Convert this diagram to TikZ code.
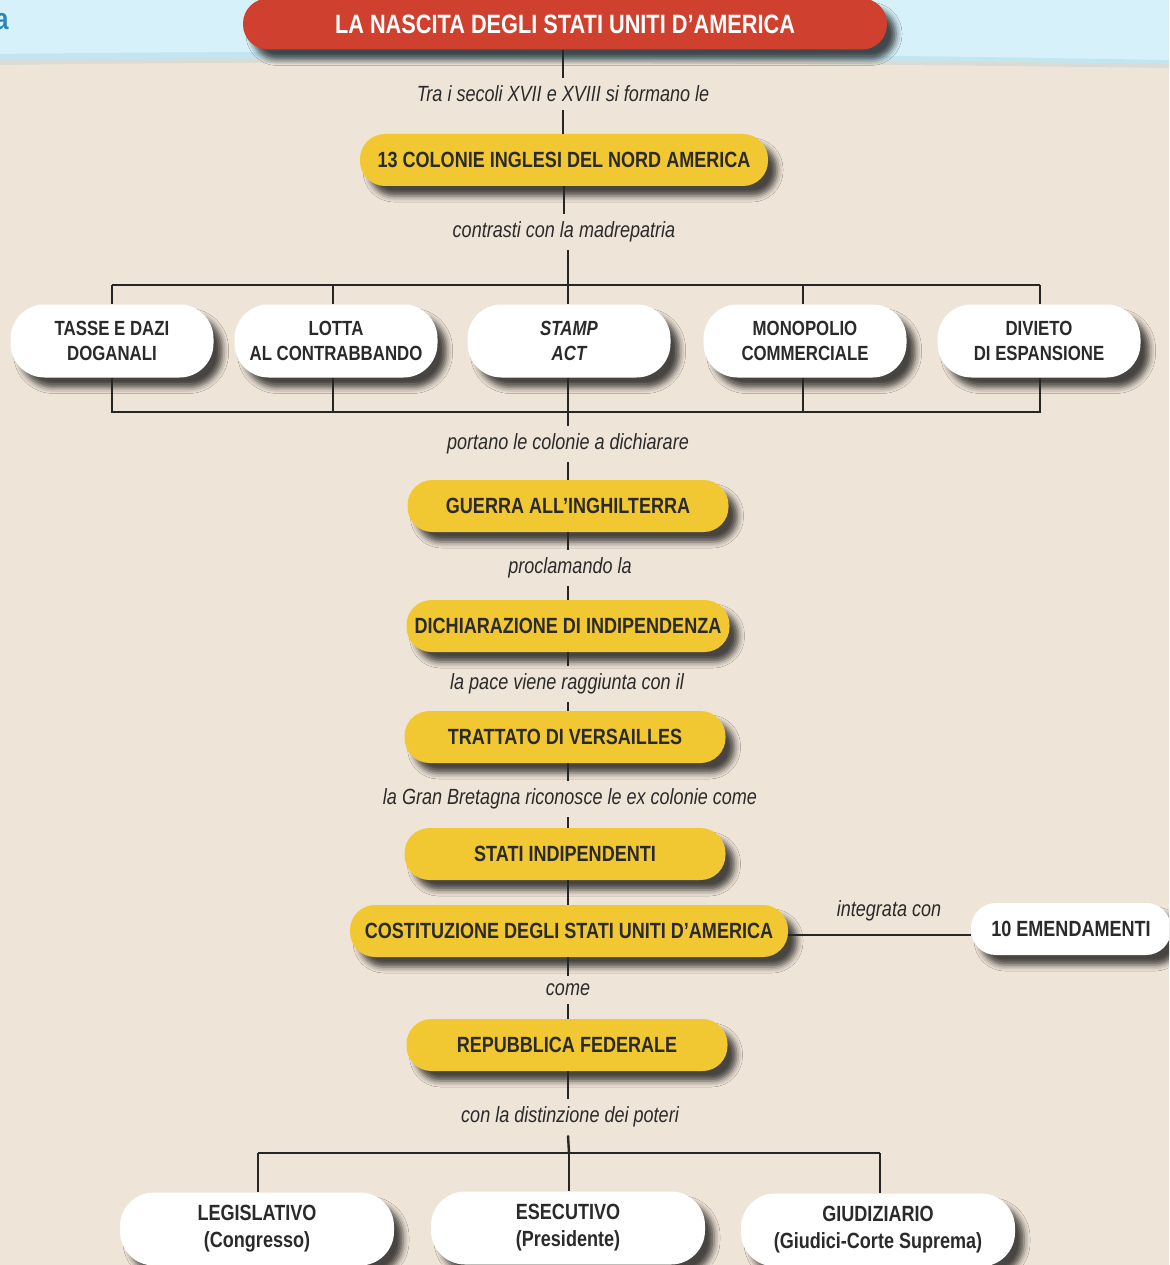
\documentclass[tikz,border=0pt]{standalone}
\usepackage{fontspec}
\setmainfont{Liberation Sans}[FakeStretch=0.82]
\usetikzlibrary{shadows.blur}
\definecolor{bg}{HTML}{EFE4D8}
\definecolor{sky}{HTML}{D7F1FA}
\definecolor{skyline}{HTML}{C3E5F0}
\definecolor{wavegrey}{HTML}{D8DCD4}
\definecolor{redt}{HTML}{D0402E}
\definecolor{yel}{HTML}{F2C832}
\definecolor{txt}{HTML}{2A2A2A}
\definecolor{lin}{HTML}{262626}
\definecolor{blueA}{HTML}{2A88B8}
\tikzset{
  shad/.style={blur shadow={shadow xshift=9pt, shadow yshift=-10pt, shadow blur radius=6pt, shadow opacity=70}},
  ybox/.style={shad, fill=yel, rounded corners=25pt, minimum height=52pt, inner sep=0pt, text=txt,
    font=\bfseries\fontsize{22}{26}\selectfont},
  wbox/.style={shad, fill=white, rounded corners=34pt, minimum height=73pt, minimum width=203pt, inner sep=0pt, text=txt,
    align=center, font=\bfseries\fontsize{20.5}{25}\selectfont},
  pbox/.style={wbox, minimum width=274pt, font=\bfseries\fontsize{22}{27}\selectfont},
  lbl/.style={text=txt, font=\itshape\fontsize{22}{26}\selectfont, inner xsep=4pt, inner ysep=8pt},
  conn/.style={draw=lin, line width=2.4pt},
}
\begin{document}
\begin{tikzpicture}[x=1pt,y=-1pt]
\useasboundingbox (0,0) rectangle (1169,1265);
\clip (0,0) rectangle (1169,1265);
% background
\fill[bg] (0,0) rectangle (1169,1265);
\fill[sky] (0,0) rectangle (1169,70);
\fill[skyline] (0,54) .. controls (300,50) and (700,52) .. (1169,60) -- (1169,72) -- (0,72) -- cycle;
\fill[wavegrey] (0,60) .. controls (300,57) and (700,58) .. (1169,64) -- (1169,74) -- (0,74) -- cycle;
\fill[bg] (0,65) .. controls (300,61) and (700,62) .. (1169,68) -- (1169,80) -- (0,80) -- cycle;
\node[text=blueA, font=\bfseries\fontsize{30}{30}\selectfont, anchor=east] (frag) at (12,22) {a};

% title
\node[shad, fill=redt, rounded corners=25pt, minimum width=644pt, minimum height=51pt, text=white,
  font=\bfseries\fontsize{26.5}{30}\selectfont] (title) at (565,24) {LA NASCITA DEGLI STATI UNITI D’AMERICA};

% labels
\node[lbl] (l1) at (563,94) {Tra i secoli XVII e XVIII si formano le};
\node[ybox, minimum width=408pt] (col) at (564,160) {13 COLONIE INGLESI DEL NORD AMERICA};
\node[lbl] (l2) at (564,232) {contrasti con la madrepatria};

\coordinate (tl) at (112,285);
\coordinate (tr) at (1040,285);
\coordinate (bl) at (112,412);
\coordinate (br) at (1040,412);
\coordinate (tm) at (568,285);
\coordinate (bm) at (568,412);

\node[wbox] (n1) at (112,341) {TASSE E DAZI\\DOGANALI};
\node[wbox] (n2) at (336,341) {LOTTA\\AL CONTRABBANDO};
\node[wbox, font=\bfseries\itshape\fontsize{20.5}{25}\selectfont] (n3) at (569,341) {STAMP\\ACT};
\node[wbox] (n4) at (805,341) {MONOPOLIO\\COMMERCIALE};
\node[wbox] (n5) at (1039,341) {DIVIETO\\DI ESPANSIONE};

\node[lbl] (l3) at (568,444) {portano le colonie a dichiarare};
\node[ybox, minimum width=321pt] (g) at (568,506) {GUERRA ALL’INGHILTERRA};
\node[lbl] (l4) at (570,568) {proclamando la};
\node[ybox, minimum width=323pt] (d) at (568,626) {DICHIARAZIONE DI INDIPENDENZA};
\node[lbl] (l5) at (567,684) {la pace viene raggiunta con il};
\node[ybox, minimum width=321pt] (t) at (565,737) {TRATTATO DI VERSAILLES};
\node[lbl] (l6) at (570,799) {la Gran Bretagna riconosce le ex colonie come};
\node[ybox, minimum width=321pt] (s) at (565,854) {STATI INDIPENDENTI};
\node[ybox, minimum width=438pt] (c) at (569,931) {COSTITUZIONE DEGLI STATI UNITI D’AMERICA};
\node[wbox, minimum width=200pt, minimum height=52pt, rounded corners=25pt, font=\bfseries\fontsize{22}{26}\selectfont] (e) at (1071,929) {10 EMENDAMENTI};
\node[lbl] (l7) at (889,911) {integrata con};
\node[lbl] (l8) at (568,990) {come};
\node[ybox, minimum width=321pt] (r) at (567,1045) {REPUBBLICA FEDERALE};
\node[lbl] (l9) at (570,1117) {con la distinzione dei poteri};

\coordinate (pl) at (258,1153);
\coordinate (pm) at (569,1153);
\coordinate (pr) at (880,1153);
\node[pbox] (p1) at (257,1229) {LEGISLATIVO\\(Congresso)};
\node[pbox] (p2) at (568,1228) {ESECUTIVO\\(Presidente)};
\node[pbox] (p3) at (878,1230) {GIUDIZIARIO\\(Giudici-Corte Suprema)};

% connectors
\begin{scope}[conn]
\draw (title.south -| l1) -- (l1);
\draw (l1) -- (l1 |- col.north);
\draw (col.south) -- (l2);
\draw (l2.south -| tm) -- (tm);
\draw (tl) -- (tr);
\draw (tl) -- (n1.north);
\draw (n1.south) -- (bl) -- (br) -- (br |- n5.south);
\draw (tr) -- (tr |- n5.north);
\draw (333,285) -- (333,304);
\draw (333,378) -- (333,412);
\draw (tm) -- (tm |- n3.north);
\draw (tm |- n3.south) -- (bm);
\draw (803,285) -- (803,304);
\draw (803,378) -- (803,412);
\draw (bm) -- (bm |- l3.north);
\draw (bm |- l3.south) -- (bm |- g.north);
\draw (bm |- g.south) -- (bm |- l4.north);
\draw (bm |- l4.south) -- (bm |- d.north);
\draw (bm |- d.south) -- (bm |- l5.north);
\draw (bm |- l5.south) -- (bm |- t.north);
\draw (bm |- t.south) -- (bm |- l6.north);
\draw (bm |- l6.south) -- (bm |- s.north);
\draw (bm |- s.south) -- (bm |- c.north);
\draw (c.east |- 0,935) -- (e.west |- 0,935);
\draw (bm |- c.south) -- (bm |- l8.north);
\draw (bm |- l8.south) -- (bm |- r.north);
\draw (bm |- r.south) -- (bm |- l9.north);
\draw (bm |- l9.south) -- (pm);
\draw (pl) -- (pr);
\draw (pl) -- (pl |- p1.north);
\draw (pm) -- (pm |- p2.north);
\draw (pr) -- (pr |- p3.north);
\end{scope}
\end{tikzpicture}
\end{document}
